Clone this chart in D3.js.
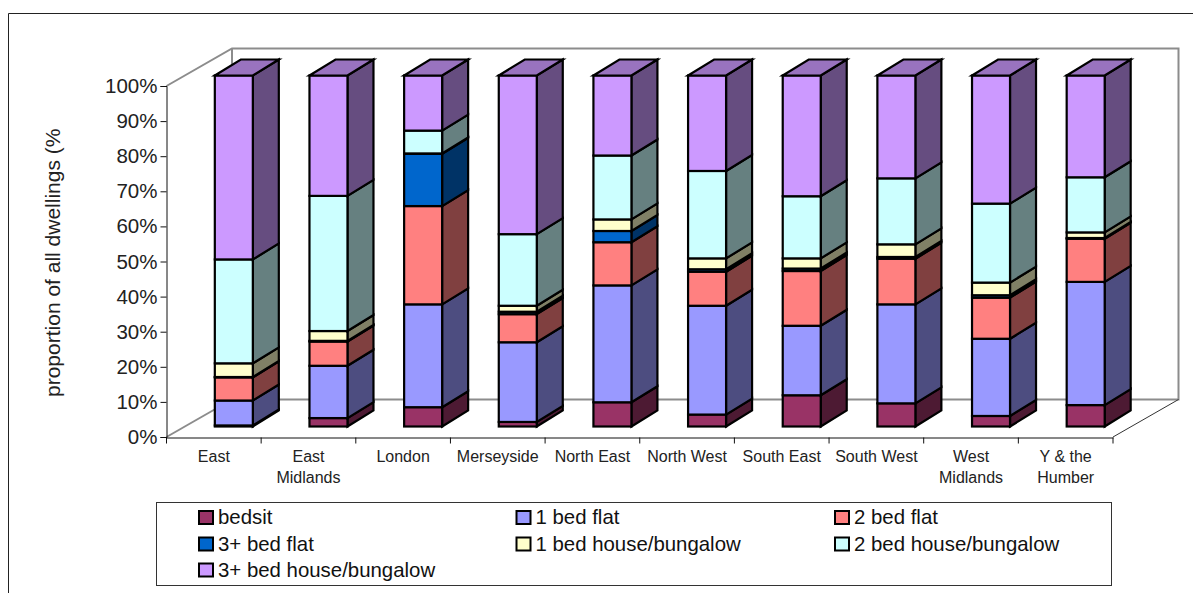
<!DOCTYPE html>
<html>
<head>
<meta charset="utf-8">
<script src="https://cdn.jsdelivr.net/npm/d3@7"></script>
<style>
  body { margin: 0; background: #fff; }
  svg { display: block; font-family: "Liberation Sans", Arial, sans-serif; }
</style>
</head>
<body>
<div id="svg_div"></div>
<script>
var w = 1193, h = 593;

var regions = ['East', 'East Midlands', 'London', 'Merseyside', 'North East', 'North West', 'South East', 'South West', 'West Midlands', 'Y & the Humber'];
var region_lines = [['East'], ['East', 'Midlands'], ['London'], ['Merseyside'], ['North East'], ['North West'], ['South East'], ['South West'], ['West', 'Midlands'], ['Y & the', 'Humber']];
var dwelling_types = ['bedsit', '1 bed flat', '2 bed flat', '3+ bed flat', '1 bed house/bungalow', '2 bed house/bungalow', '3+ bed house/bungalow'];

// percentages per region, same order as regions
var bedsit       = [0.3, 2.4, 5.5, 1.3, 6.9, 3.4, 8.9, 6.6, 3.0, 6.1];
var flat_1bed    = [7.1, 14.9, 29.3, 22.7, 33.3, 31.0, 19.8, 28.2, 22.0, 35.1];
var flat_2bed    = [6.6, 6.9, 28.0, 8.0, 12.3, 9.7, 15.6, 13.0, 11.7, 12.3];
var flat_3bed    = [0.1, 0.2, 14.9, 0.7, 3.2, 0.7, 0.7, 0.5, 0.7, 0.2];
var house_1bed   = [3.9, 2.8, 0.1, 1.7, 3.3, 3.1, 2.9, 3.6, 3.6, 1.6];
var house_2bed   = [29.6, 38.5, 6.5, 20.4, 18.2, 24.9, 17.7, 18.8, 22.5, 15.7];
var house_3bed   = [52.4, 34.3, 15.7, 45.2, 22.8, 27.2, 34.4, 29.3, 36.5, 29.0];
var series = [bedsit, flat_1bed, flat_2bed, flat_3bed, house_1bed, house_2bed, house_3bed];

var front_cols = ['#993366', '#9999ff', '#ff8080', '#0066cc', '#ffffcc', '#ccffff', '#cc99ff'];
var side_cols  = ['#4d1a33', '#4d4d80', '#804040', '#003366', '#808066', '#668080', '#664d80'];
var top_col = '#9973bf';

var y_ticks = [0, 10, 20, 30, 40, 50, 60, 70, 80, 90, 100];

var the_svg = d3.select('#svg_div').append('svg')
    .attr('width', w)
    .attr('height', h);

// chart frame, open at the bottom and right of the window
the_svg.append('path')
  .attr('d', 'M8.5,593V13.5H1193')
  .attr('fill', 'none')
  .attr('stroke', '#222')
  .attr('stroke-width', 1);

var x = d3.scaleBand().domain(regions).range([166.5, 1113]);
var y = d3.scaleLinear().domain([0, 100]).range([437, 86]);

// oblique offsets for the 3d look
var wall_dx = 65.5, wall_dy = -37.5;
var bar_dx = 26, bar_dy = -16;
var bar_shift_x = 20, bar_shift_y = -10.5;
var bar_w = 38;

// back wall and floor edges
the_svg.append('path')
  .attr('d', 'M' + x.range()[0] + ',' + y(100) + 'l' + wall_dx + ',' + wall_dy + 'H' + (x.range()[1] + wall_dx) + 'V' + (y(0) + wall_dy) + 'H' + (x.range()[0] + wall_dx) + 'V' + (y(100) + wall_dy))
  .attr('fill', 'none')
  .attr('stroke', '#8c8c8c')
  .attr('stroke-width', 2);
the_svg.append('path')
  .attr('d', 'M' + x.range()[0] + ',' + y(0) + 'l' + wall_dx + ',' + wall_dy)
  .attr('fill', 'none')
  .attr('stroke', '#8c8c8c')
  .attr('stroke-width', 2);
the_svg.append('path')
  .attr('d', 'M' + x.range()[1] + ',' + y(0) + 'l' + wall_dx + ',' + wall_dy)
  .attr('fill', 'none')
  .attr('stroke', '#333')
  .attr('stroke-width', 1);

var stacked = d3.stack().keys(d3.range(series.length)).value(function(d, k) { return series[k][d]; })(d3.range(regions.length));

// stacks, bottom segment first so the upper ones overlap cleanly
var bars = the_svg.append('g')
  .attr('stroke', '#000')
  .attr('stroke-width', 2.2)
  .attr('stroke-linejoin', 'miter');

stacked.forEach(function(layer, k) {
  layer.forEach(function(seg, i) {
    var x0 = x(regions[i]) + x.bandwidth() / 2 + bar_shift_x - bar_w / 2;
    var x1 = x0 + bar_w;
    var y0 = y(seg[0]) + bar_shift_y;
    var y1 = y(seg[1]) + bar_shift_y;
    var g = bars.append('g');
    g.append('path')
      .attr('d', 'M' + x1 + ',' + y0 + 'l' + bar_dx + ',' + bar_dy + 'V' + (y1 + bar_dy) + 'L' + x1 + ',' + y1 + 'Z')
      .attr('fill', side_cols[k]);
    g.append('rect')
      .attr('x', x0)
      .attr('y', y1)
      .attr('width', bar_w)
      .attr('height', y0 - y1)
      .attr('fill', front_cols[k]);
    if (k == series.length - 1) {
      g.append('path')
        .attr('d', 'M' + x0 + ',' + y1 + 'l' + bar_dx + ',' + bar_dy + 'h' + bar_w + 'l' + (-bar_dx) + ',' + (-bar_dy) + 'Z')
        .attr('fill', top_col);
    }
  });
});

// axes
var y_axis = d3.axisLeft(y).tickValues(y_ticks).tickSize(6).tickFormat(function(d) { return d + '%'; });
var y_g = the_svg.append('g').attr('transform', 'translate(166.5,0)').call(y_axis);
y_g.select('.domain').attr('stroke', '#111').attr('stroke-width', 1);
y_g.selectAll('.tick line').attr('stroke', '#111');
y_g.selectAll('.tick text')
  .attr('x', -9)
  .attr('font-family', '"Liberation Sans", Arial, sans-serif')
  .attr('font-size', 20.5)
  .attr('fill', '#222');

var x_axis = d3.axisBottom(x).tickSize(0).tickFormat('');
var x_g = the_svg.append('g').attr('transform', 'translate(0,437.5)').call(x_axis);
x_g.select('.domain').attr('stroke', '#111').attr('stroke-width', 1);

// tick marks sit on the band edges, not the centres
the_svg.append('g').selectAll('line')
  .data(regions.concat(['end']))
  .join('line')
    .attr('x1', function(d, i) { return x.range()[0] + i * x.step(); })
    .attr('x2', function(d, i) { return x.range()[0] + i * x.step(); })
    .attr('y1', 437.5)
    .attr('y2', 443.5)
    .attr('stroke', '#111');

var labels = the_svg.append('g').attr('text-anchor', 'middle').attr('font-size', 16).attr('fill', '#222');
region_lines.forEach(function(lines, i) {
  lines.forEach(function(t, j) {
    labels.append('text')
      .attr('x', x(regions[i]) + x.bandwidth() / 2)
      .attr('y', 462 + j * 21)
      .text(t);
  });
});

the_svg.append('text')
  .attr('transform', 'translate(60,397) rotate(-90)')
  .attr('font-size', 21)
  .attr('fill', '#222')
  .text('proportion of all dwellings (%');

// legend
the_svg.append('rect')
  .attr('x', 156.5)
  .attr('y', 502.5)
  .attr('width', 955)
  .attr('height', 83)
  .attr('fill', '#fff')
  .attr('stroke', '#333');

var legend_x = [199, 516.5, 835];
var legend_y = [517.5, 544, 570];
var legend = the_svg.append('g');
dwelling_types.forEach(function(name, k) {
  var col = k % 3, row = Math.floor(k / 3);
  legend.append('rect')
    .attr('x', legend_x[col])
    .attr('y', legend_y[row] - 6.5)
    .attr('width', 14)
    .attr('height', 13)
    .attr('fill', front_cols[k])
    .attr('stroke', '#000')
    .attr('stroke-width', 2);
  legend.append('text')
    .attr('x', legend_x[col] + 19)
    .attr('y', legend_y[row] + 6.5)
    .attr('font-size', 20.4)
    .attr('fill', '#111')
    .text(name);
});
</script>
</body>
</html>
